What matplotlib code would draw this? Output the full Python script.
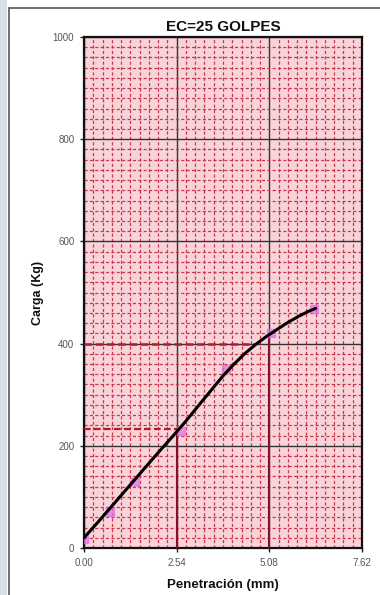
import matplotlib
matplotlib.use("Agg")
from matplotlib import pyplot as plt
from matplotlib.patches import Rectangle
import numpy as np

plt.rcParams['font.family'] = ['Liberation Sans Narrow', 'Liberation Sans', 'DejaVu Sans']

# measured test points (penetration mm, load kg)
pen_pts = [0.00, 0.70, 1.40, 2.65, 3.90, 5.12, 6.30]
load_pts = [18, 70, 130, 228, 350, 420, 468]

# fitted curve
pen_curve = [0.00, 0.40, 0.80, 1.20, 1.60, 2.00, 2.40, 2.80, 3.20, 3.50, 3.80,
             4.10, 4.40, 4.70, 5.00, 5.30, 5.60, 5.90, 6.15, 6.35]
load_curve = [20, 52, 85, 118, 151, 184, 216, 249, 284, 310, 336,
              359, 380, 398, 414, 428, 442, 454, 463, 469]

# reference values
load_254 = 233
load_508 = 400
pen_400 = 4.70

x_ticks = [0.0, 2.54, 5.08, 7.62]
x_labels = ['0.00', '2.54', '5.08', '7.62']
y_ticks = [0, 200, 400, 600, 800, 1000]

fig = plt.figure(figsize=(3.8, 5.95), dpi=100)
fig.patch.set_facecolor('white')

# outer frame of the sheet
fig.add_artist(Rectangle((9/380, -0.1), 1.2, (595 - 8)/595 + 0.1, transform=fig.transFigure,
                         fill=False, edgecolor='#555555', lw=1.2))
fig.add_artist(Rectangle((0, 0), 7/380, 1, transform=fig.transFigure,
                         facecolor='#d8dde6', edgecolor='none'))

ax = fig.add_axes([84/380, 47/595, 278/380, 511/595])
ax.set_facecolor('#f9d3da')

ax.set_xlim(0, 7.62)
ax.set_ylim(0, 1000)

# minor grid (graph paper)
ax.set_xticks(np.arange(0, 7.62 + 0.01, 0.254), minor=True)
ax.set_yticks(np.arange(0, 1001, 20), minor=True)
ax.grid(which='minor', color='#c83848', linestyle=(0, (2.5, 1.8)), lw=0.9)
ax.grid(which='major', color='#333333', linestyle='-', lw=1.0)
ax.tick_params(which='minor', length=0)

ax.set_xticks(x_ticks, x_labels)
ax.set_yticks(y_ticks)
ax.tick_params(which='major', length=3, width=1, colors='#222222',
               labelsize=7, labelcolor='#555555', pad=4)
for s in ax.spines.values():
    s.set_color('#111111')
    s.set_linewidth(1.6)

# reference lines
ax.plot([0, 2.54], [load_254, load_254], color='#b81828', lw=1.6, ls=(0, (3, 1.5)), zorder=3)
ax.plot([2.54, 2.54], [0, load_254], color='#8a1020', lw=1.5, zorder=3)
ax.plot([0, pen_400], [load_508, load_508], color='#b81828', lw=1.8, ls=(0, (3, 1.5)), zorder=3)
ax.plot([5.08, 5.08], [0, 414], color='#8a1030', lw=1.5, zorder=3)

ax.plot(pen_pts, load_pts, linestyle='none', marker='s', ms=6,
        color='#e070e0', alpha=0.7, zorder=4)
ax.plot(pen_curve, load_curve, color='black', lw=2.2, zorder=5,
        solid_joinstyle='round', solid_capstyle='round')

ax.set_title('EC=25 GOLPES', fontsize=11, fontweight='bold', color='#111111', pad=4)
ax.set_xlabel('Penetración (mm)', fontsize=9.5, fontweight='bold', color='#111111', labelpad=8)
ax.set_ylabel('Carga (Kg)', fontsize=9, fontweight='bold', color='#111111', labelpad=6)

fig.savefig('out.png', dpi=100)
